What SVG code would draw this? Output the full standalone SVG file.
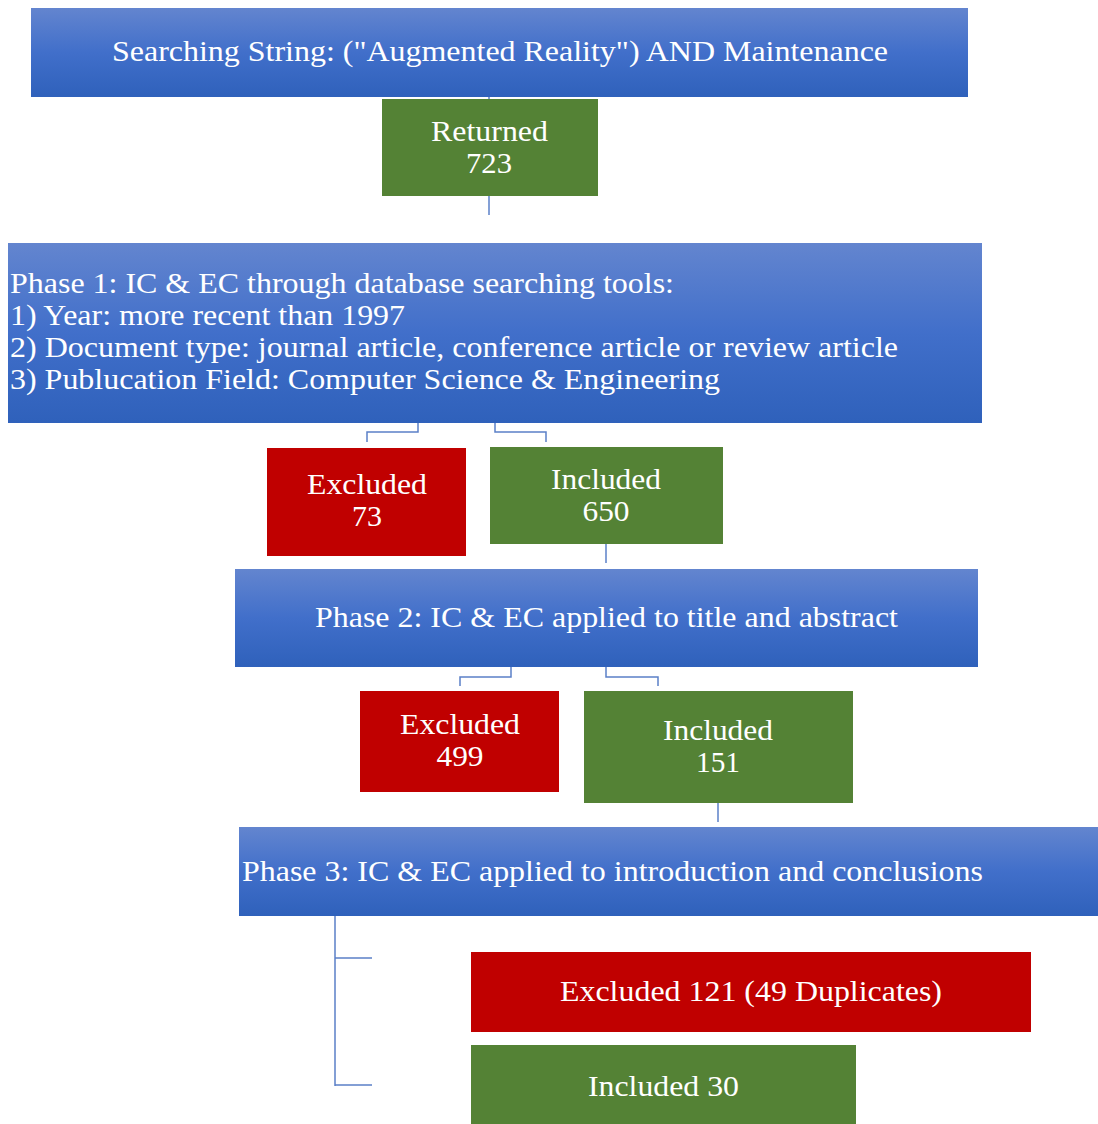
<svg xmlns="http://www.w3.org/2000/svg" width="1098" height="1124" viewBox="0 0 1098 1124">
  <defs>
    <linearGradient id="blueGrad" x1="0" y1="0" x2="0" y2="1">
      <stop offset="0" stop-color="#6385cf"/>
      <stop offset="0.5" stop-color="#416fca"/>
      <stop offset="1" stop-color="#2f61bb"/>
    </linearGradient>
  </defs>
  <style>
    text { font-family: "Liberation Serif", "Times New Roman", serif; font-size: 30px; fill: #ffffff; }
    .mid { text-anchor: middle; }
    .blue { fill: url(#blueGrad); }
    .red { fill: #c00000; }
    .green { fill: #548235; }
    .conn { fill: none; stroke: #5b80c8; stroke-width: 1.5; }
  </style>

  <!-- connectors -->
  <g id="connectors">
    <path class="conn" d="M489 97 V215"/>
    <path class="conn" d="M418 423 V432 H367 V442"/>
    <path class="conn" d="M495 423 V432 H546 V442"/>
    <path class="conn" d="M606 544 V563"/>
    <path class="conn" d="M511 667 V677 H460 V686"/>
    <path class="conn" d="M606 667 V677 H658 V686"/>
    <path class="conn" d="M718 803 V822"/>
    <path class="conn" d="M335 916 V1086 M335 958 H372 M335 1085 H372"/>
  </g>

  <g id="search">
    <rect class="blue" x="31" y="8" width="937" height="89"/>
    <text x="500" y="61" class="mid" textLength="776" lengthAdjust="spacingAndGlyphs">Searching String: ("Augmented Reality") AND Maintenance</text>
  </g>

  <g id="returned">
    <rect class="green" x="382" y="99" width="216" height="97"/>
    <text x="489.5" y="141" class="mid" textLength="117" lengthAdjust="spacingAndGlyphs">Returned</text>
    <text x="489" y="173" class="mid" textLength="46" lengthAdjust="spacingAndGlyphs">723</text>
  </g>

  <g id="phase1">
    <rect class="blue" x="8" y="243" width="974" height="180"/>
    <text x="10" y="293" textLength="664" lengthAdjust="spacingAndGlyphs">Phase 1: IC &amp; EC through database searching tools:</text>
    <text x="10" y="325" textLength="395" lengthAdjust="spacingAndGlyphs">1) Year: more recent than 1997</text>
    <text x="10" y="357" textLength="888" lengthAdjust="spacingAndGlyphs">2) Document type: journal article, conference article or review article</text>
    <text x="10" y="389" textLength="710" lengthAdjust="spacingAndGlyphs">3) Publucation Field: Computer Science &amp; Engineering</text>
  </g>

  <g id="excluded73">
    <rect class="red" x="267" y="448" width="199" height="108"/>
    <text x="367" y="494" class="mid" textLength="120" lengthAdjust="spacingAndGlyphs">Excluded</text>
    <text x="367" y="526" class="mid" textLength="30" lengthAdjust="spacingAndGlyphs">73</text>
  </g>

  <g id="included650">
    <rect class="green" x="490" y="447" width="233" height="97"/>
    <text x="606" y="489" class="mid" textLength="110" lengthAdjust="spacingAndGlyphs">Included</text>
    <text x="606" y="521" class="mid" textLength="47" lengthAdjust="spacingAndGlyphs">650</text>
  </g>

  <g id="phase2">
    <rect class="blue" x="235" y="569" width="743" height="98"/>
    <text x="606.5" y="627" class="mid" textLength="583" lengthAdjust="spacingAndGlyphs">Phase 2: IC &amp; EC applied to title and abstract</text>
  </g>

  <g id="excluded499">
    <rect class="red" x="360" y="691" width="199" height="101"/>
    <text x="460" y="734" class="mid" textLength="120" lengthAdjust="spacingAndGlyphs">Excluded</text>
    <text x="460" y="766" class="mid" textLength="47" lengthAdjust="spacingAndGlyphs">499</text>
  </g>

  <g id="included151">
    <rect class="green" x="584" y="691" width="269" height="112"/>
    <text x="718" y="740" class="mid" textLength="110" lengthAdjust="spacingAndGlyphs">Included</text>
    <text x="718" y="772" class="mid" textLength="44" lengthAdjust="spacingAndGlyphs">151</text>
  </g>

  <g id="phase3">
    <rect class="blue" x="239" y="827" width="859" height="89"/>
    <text x="242" y="881" textLength="741" lengthAdjust="spacingAndGlyphs">Phase 3: IC &amp; EC applied to introduction and conclusions</text>
  </g>

  <g id="excluded121">
    <rect class="red" x="471" y="952" width="560" height="80"/>
    <text x="751" y="1001" class="mid" textLength="382" lengthAdjust="spacingAndGlyphs">Excluded 121 (49 Duplicates)</text>
  </g>

  <g id="included30">
    <rect class="green" x="471" y="1045" width="385" height="79"/>
    <text x="663.5" y="1096" class="mid" textLength="151" lengthAdjust="spacingAndGlyphs">Included 30</text>
  </g>
</svg>
